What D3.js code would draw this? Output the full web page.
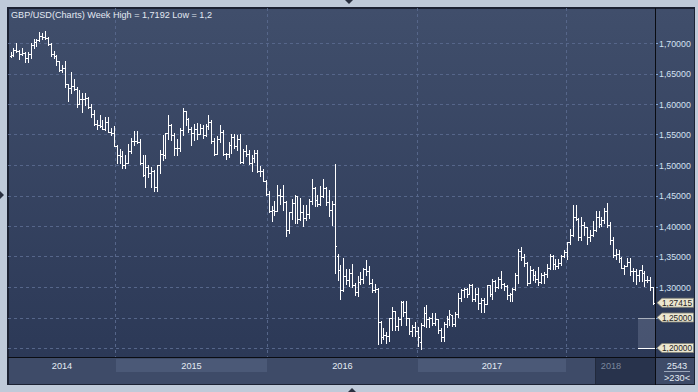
<!DOCTYPE html>
<html>
<head>
<meta charset="utf-8">
<script src="https://cdn.jsdelivr.net/npm/d3@7"></script>
<style>
html, body { margin: 0; padding: 0; background: #bfcad9; }
svg { display: block; font-family: "Liberation Sans", Arial, sans-serif; }
</style>
</head>
<body>
<svg width="698" height="392"></svg>
<script>
// weekly GBP/USD bars, week of 21 Apr 2014 .. week of 6 Aug 2018
var opens = [
  1.6790,1.6805,1.6888,1.6865,1.6818,1.6834,1.6753,1.6822,1.6975,1.7013,1.7041,1.7112,1.7105,1.7080,1.6983,1.6825,1.6794,1.6697,1.6562,1.6590,1.6321,1.6266,1.6296,1.6247,1.6005,1.6088,1.6088,1.6091,1.5950,1.5843,1.5678,1.5650,1.5636,1.5593,1.5711,1.5547,1.5531,
  1.5318,1.5158,1.5155,1.5004,1.5034,1.5235,1.5395,1.5389,1.5378,1.5037,1.4838,1.4965,1.4875,1.4905,1.4634,1.4996,1.5184,1.5158,1.5520,1.5659,1.5492,1.5283,1.5285,1.5570,1.5881,1.5746,1.5595,1.5517,1.5596,1.5508,1.5614,1.5499,1.5641,1.5698,1.5387,1.5175,1.5432,1.5533,1.5188,1.5180,1.5328,1.5467,1.5317,1.5423,1.5044,1.5223,1.5187,1.5038,1.5115,1.5192,1.4897,1.4906,
  1.4738,1.4530,1.4250,1.4265,1.4245,1.4502,1.4498,1.4397,1.3928,1.4230,1.4370,1.4484,1.4120,1.4225,1.4136,1.4200,1.4411,1.4616,1.4430,1.4367,1.4495,1.4628,1.4400,1.4260,1.4365,1.3500,1.3278,1.2950,1.3187,1.3112,1.3230,1.3027,1.2921,1.3075,1.3128,1.3300,1.3261,1.3058,1.2958,1.2973,1.2430,1.2180,1.2220,1.2190,1.2485,1.2600,1.2354,1.2472,1.2756,1.2597,1.2489,1.2271,
  1.2340,1.2280,1.2100,1.2373,1.2575,1.2478,1.2486,1.2412,1.2477,1.2297,1.2180,1.2397,1.2478,1.2540,1.2395,1.2558,1.2822,1.2950,1.2968,1.2878,1.3035,1.2798,1.2885,1.2745,1.2784,1.2720,1.3028,1.2886,1.3095,1.2996,1.3138,1.3043,1.3011,1.2876,1.2880,1.2962,1.3200,1.3592,1.3490,1.3398,1.3066,1.3286,1.3200,1.3138,1.3079,1.3190,1.3212,1.3312,1.3502,1.3375,1.3337,1.3386,
  1.3509,1.3566,1.3733,1.3856,1.4155,1.4119,1.3823,1.4020,1.3990,1.3812,1.3857,1.3927,1.4143,1.4025,1.4095,1.4240,1.4016,1.3770,1.3523,1.3539,1.3476,1.3306,1.3345,1.3410,1.3270,1.3266,1.3193,1.3285,1.3235,1.3117,1.3109,1.2995
];
var highs = [
  1.6851,1.6922,1.6996,1.6885,1.6925,1.6847,1.6849,1.6992,1.7063,1.7064,1.7180,1.7166,1.7192,1.7093,1.6998,1.6864,1.6803,1.6702,1.6644,1.6701,1.6327,1.6525,1.6412,1.6285,1.6227,1.6184,1.6183,1.6116,1.6002,1.5906,1.5738,1.5826,1.5734,1.5788,1.5785,1.5607,1.5635,
  1.5328,1.5269,1.5237,1.5167,1.5351,1.5435,1.5553,1.5551,1.5422,1.5167,1.5166,1.4992,1.4965,1.4911,1.5003,1.5243,1.5498,1.5523,1.5815,1.5664,1.5525,1.5425,1.5600,1.5930,1.5888,1.5773,1.5615,1.5675,1.5690,1.5675,1.5648,1.5678,1.5819,1.5738,1.5440,1.5473,1.5659,1.5575,1.5199,1.5385,1.5509,1.5509,1.5484,1.5507,1.5262,1.5336,1.5240,1.5160,1.5242,1.5241,1.4990,1.4930,
  1.4753,1.4567,1.4331,1.4412,1.4669,1.4608,1.4669,1.4410,1.4234,1.4437,1.4514,1.4500,1.4459,1.4346,1.4344,1.4445,1.4770,1.4634,1.4508,1.4661,1.4769,1.4632,1.4589,1.4404,1.5018,1.3536,1.3353,1.3480,1.3292,1.3297,1.3372,1.3060,1.3186,1.3244,1.3308,1.3445,1.3340,1.3132,1.3055,1.2990,1.2440,1.2335,1.2265,1.2500,1.2674,1.2610,1.2512,1.2776,1.2775,1.2771,1.2495,1.2370,
  1.2432,1.2347,1.2417,1.2674,1.2705,1.2510,1.2581,1.2570,1.2478,1.2331,1.2432,1.2521,1.2615,1.2540,1.2583,1.2905,1.2966,1.2990,1.2990,1.3048,1.3045,1.2978,1.2980,1.2814,1.2815,1.3029,1.3030,1.3126,1.3113,1.3166,1.3268,1.3065,1.3031,1.2907,1.2979,1.3222,1.3616,1.3658,1.3540,1.3413,1.3338,1.3290,1.3257,1.3321,1.3223,1.3252,1.3370,1.3549,1.3530,1.3466,1.3453,1.3530,
  1.3613,1.3743,1.3943,1.4346,1.4345,1.4137,1.4145,1.4070,1.3990,1.3934,1.4089,1.4245,1.4245,1.4150,1.4300,1.4377,1.4060,1.3820,1.3625,1.3610,1.3490,1.3367,1.3471,1.3472,1.3314,1.3296,1.3285,1.3362,1.3259,1.3184,1.3171,1.3005
];
var lows = [
  1.6765,1.6787,1.6851,1.6733,1.6802,1.6693,1.6695,1.6760,1.6925,1.6955,1.7032,1.7059,1.7062,1.6960,1.6788,1.6760,1.6634,1.6548,1.6523,1.6284,1.6052,1.6183,1.6225,1.5951,1.6004,1.5875,1.5984,1.5930,1.5789,1.5654,1.5590,1.5620,1.5588,1.5580,1.5539,1.5485,1.5315,
  1.5035,1.5035,1.4952,1.4951,1.5034,1.5190,1.5332,1.5364,1.5017,1.4820,1.4636,1.4806,1.4632,1.4568,1.4566,1.4873,1.5090,1.5107,1.5421,1.5410,1.5170,1.5169,1.5236,1.5486,1.5655,1.5537,1.5330,1.5417,1.5423,1.5507,1.5443,1.5479,1.5590,1.5356,1.5163,1.5174,1.5383,1.5158,1.5106,1.5139,1.5192,1.5271,1.5242,1.5026,1.5027,1.5153,1.5016,1.4895,1.5052,1.4878,1.4823,1.4734,
  1.4513,1.4235,1.4080,1.4182,1.4240,1.4353,1.4259,1.3836,1.3879,1.4114,1.4055,1.4054,1.4095,1.4006,1.4092,1.4125,1.4363,1.4333,1.4331,1.4340,1.4480,1.4350,1.4163,1.4013,1.3229,1.3122,1.2798,1.2938,1.3055,1.3012,1.3004,1.2865,1.2852,1.3054,1.3068,1.3189,1.3052,1.2915,1.2917,1.2058,1.2085,1.2148,1.2082,1.2112,1.2300,1.2301,1.2301,1.2384,1.2523,1.2371,1.2226,1.2199,
  1.2196,1.2036,1.1987,1.2367,1.2346,1.2346,1.2383,1.2384,1.2251,1.2109,1.2112,1.2342,1.2380,1.2365,1.2365,1.2515,1.2773,1.2841,1.2843,1.2878,1.2773,1.2774,1.2634,1.2589,1.2589,1.2719,1.2847,1.2811,1.2932,1.2991,1.2990,1.2955,1.2808,1.2774,1.2773,1.2947,1.3070,1.3443,1.3337,1.3027,1.3061,1.3121,1.3083,1.3036,1.3061,1.3061,1.3171,1.3303,1.3300,1.3290,1.3305,1.3364,
  1.3486,1.3457,1.3700,1.3844,1.4103,1.3765,1.3765,1.3855,1.3712,1.3752,1.3842,1.3925,1.3986,1.3996,1.4050,1.3985,1.3711,1.3491,1.3458,1.3410,1.3304,1.3205,1.3340,1.3204,1.3102,1.3049,1.3102,1.3103,1.3010,1.3077,1.2957,1.2716
];
var closes = [
  1.6805,1.6888,1.6865,1.6818,1.6834,1.6753,1.6822,1.6975,1.7013,1.7041,1.7112,1.7105,1.7080,1.6983,1.6825,1.6794,1.6697,1.6562,1.6590,1.6321,1.6266,1.6296,1.6247,1.6005,1.6088,1.6088,1.6091,1.5950,1.5843,1.5678,1.5650,1.5636,1.5593,1.5711,1.5547,1.5531,1.5318,
  1.5158,1.5155,1.5004,1.5034,1.5235,1.5395,1.5389,1.5378,1.5037,1.4838,1.4965,1.4875,1.4905,1.4634,1.4996,1.5184,1.5158,1.5520,1.5659,1.5492,1.5283,1.5285,1.5570,1.5881,1.5746,1.5595,1.5517,1.5596,1.5508,1.5614,1.5499,1.5641,1.5698,1.5387,1.5175,1.5432,1.5533,1.5188,1.5180,1.5328,1.5467,1.5317,1.5423,1.5044,1.5223,1.5187,1.5038,1.5115,1.5192,1.4897,1.4906,1.4738,
  1.4530,1.4250,1.4265,1.4245,1.4502,1.4498,1.4397,1.3928,1.4230,1.4370,1.4484,1.4120,1.4225,1.4136,1.4200,1.4411,1.4616,1.4430,1.4367,1.4495,1.4628,1.4400,1.4260,1.4365,1.3680,1.3278,1.2950,1.3187,1.3112,1.3230,1.3027,1.2921,1.3075,1.3128,1.3300,1.3261,1.3058,1.2958,1.2973,1.2430,1.2180,1.2220,1.2190,1.2485,1.2600,1.2354,1.2472,1.2756,1.2597,1.2489,1.2271,1.2340,
  1.2280,1.2180,1.2373,1.2575,1.2478,1.2486,1.2412,1.2477,1.2297,1.2180,1.2397,1.2478,1.2551,1.2395,1.2558,1.2822,1.2950,1.2968,1.2878,1.3035,1.2798,1.2885,1.2745,1.2784,1.2720,1.3028,1.2886,1.3095,1.2996,1.3138,1.3043,1.3011,1.2876,1.2880,1.2962,1.3200,1.3592,1.3490,1.3398,1.3066,1.3286,1.3200,1.3138,1.3079,1.3190,1.3212,1.3312,1.3502,1.3375,1.3337,1.3386,1.3509,
  1.3566,1.3733,1.3856,1.4155,1.4119,1.3823,1.4020,1.3990,1.3812,1.3857,1.3927,1.4143,1.4025,1.4095,1.4240,1.4016,1.3770,1.3523,1.3539,1.3476,1.3306,1.3345,1.3410,1.3270,1.3266,1.3193,1.3285,1.3235,1.3117,1.3109,1.2993,1.27415
];

var years = ["2014", "2015", "2016", "2017", "2018"];
var yearStart = [0, 36.4, 89.4, 141.7, 193.6];   // bar index where each year begins
var priceTicks = [1.20, 1.25, 1.30, 1.35, 1.40, 1.45, 1.50, 1.55, 1.60, 1.65, 1.70];
var lastPrice = 1.27415;
var lineLevels = [1.25, 1.20];
var titleText = "GBP/USD(Charts) Week High = 1,7192 Low = 1,2";
var cornerTop = "2543", cornerBottom = ">230<";

var svg = d3.select("svg");
var plotL = 8, plotR = 655, plotT = 8, plotB = 357, panelR = 694, stripB = 384;

var x = d3.scaleLinear().domain([0, closes.length - 1]).range([10.6, 653]);
var y = d3.scaleLinear().domain([1.20, 1.70]).range([348, 43]);
var fmt = function(v) { return d3.format(".5f")(v).replace(".", ","); };

var defs = svg.append("defs");
var grad = defs.append("linearGradient").attr("id", "bg")
    .attr("x1", 0).attr("y1", 0).attr("x2", 0).attr("y2", 1);
grad.append("stop").attr("offset", "0%").attr("stop-color", "#404e6b");
grad.append("stop").attr("offset", "100%").attr("stop-color", "#2c3957");
defs.append("clipPath").attr("id", "plotclip").append("rect")
    .attr("x", plotL).attr("y", plotT).attr("width", plotR - plotL).attr("height", plotB - plotT);

// outer frame
svg.append("rect").attr("width", 698).attr("height", 392).attr("fill", "#bfcad9");
svg.append("rect").attr("x", 7).attr("y", 7).attr("width", panelR - 7 + 1).attr("height", stripB - 7 + 1)
    .attr("fill", "#1c2233");

// little frame arrows
svg.append("path").attr("d", "M345,0 L353,0 L349,4 Z").attr("fill", "#2a3040");
svg.append("path").attr("d", "M0,191 L0,199 L4,195 Z").attr("fill", "#2a3040");
svg.append("path").attr("d", "M348,392 L356,392 L352,388 Z").attr("fill", "#2a3040");

// backgrounds
svg.append("rect").attr("x", plotL + 1).attr("y", plotT + 1).attr("width", plotR - plotL - 1).attr("height", plotB - plotT - 1)
    .attr("fill", "url(#bg)");
svg.append("rect").attr("x", plotR + 1).attr("y", plotT + 1).attr("width", panelR - plotR - 1).attr("height", plotB - plotT - 1)
    .attr("fill", "url(#bg)");
svg.append("rect").attr("x", plotL + 1).attr("y", plotB + 1).attr("width", panelR - plotL - 1).attr("height", stripB - plotB - 1)
    .attr("fill", "#3e4b68");

// grid
var grid = svg.append("g").attr("clip-path", "url(#plotclip)").attr("shape-rendering", "crispEdges");
grid.selectAll("line.h").data(priceTicks).join("line").attr("class", "h")
    .attr("x1", plotL).attr("x2", plotR)
    .attr("y1", function(d) { return Math.round(y(d)) + 0.5; })
    .attr("y2", function(d) { return Math.round(y(d)) + 0.5; })
    .attr("stroke", "#56668a").attr("stroke-dasharray", "3,3");
grid.selectAll("line.v").data(yearStart.slice(1)).join("line").attr("class", "v")
    .attr("x1", function(d) { return Math.round(x(d)) + 0.5; })
    .attr("x2", function(d) { return Math.round(x(d)) + 0.5; })
    .attr("y1", plotT).attr("y2", plotB)
    .attr("stroke", "#56668a").attr("stroke-dasharray", "3,3");

// level box at the right end
var boxX = 638;
svg.append("rect").attr("x", boxX).attr("y", Math.round(y(lineLevels[0])))
    .attr("width", plotR - boxX).attr("height", Math.round(y(lineLevels[1])) - Math.round(y(lineLevels[0])))
    .attr("fill", "#6a7590").attr("fill-opacity", 0.45);
svg.append("line").attr("x1", boxX).attr("x2", plotR)
    .attr("y1", Math.round(y(lineLevels[0])) + 0.5).attr("y2", Math.round(y(lineLevels[0])) + 0.5)
    .attr("stroke", "#a9b0bd").attr("shape-rendering", "crispEdges");
svg.append("line").attr("x1", boxX).attr("x2", plotR)
    .attr("y1", Math.round(y(lineLevels[1])) + 0.5).attr("y2", Math.round(y(lineLevels[1])) + 0.5)
    .attr("stroke", "#ffffff").attr("shape-rendering", "crispEdges");

// OHLC bars
var idx = d3.range(closes.length);
var bars = svg.append("g").attr("clip-path", "url(#plotclip)").attr("shape-rendering", "crispEdges").attr("fill", "#ffffff");
bars.selectAll("rect.hl").data(idx).join("rect").attr("class", "hl")
    .attr("x", function(i) { return Math.round(x(i)); })
    .attr("y", function(i) { return Math.round(y(highs[i])); })
    .attr("width", 1)
    .attr("height", function(i) { return Math.max(1, Math.round(y(lows[i])) - Math.round(y(highs[i])) + 1); });
bars.selectAll("rect.o").data(idx).join("rect").attr("class", "o")
    .attr("x", function(i) { return Math.round(x(i)) - 1; })
    .attr("y", function(i) { return Math.round(y(opens[i])); })
    .attr("width", 1).attr("height", 1);
bars.selectAll("rect.c").data(idx).join("rect").attr("class", "c")
    .attr("x", function(i) { return Math.round(x(i)) + 1; })
    .attr("y", function(i) { return Math.round(y(closes[i])); })
    .attr("width", 1).attr("height", 1);

// separators
svg.append("line").attr("x1", plotL).attr("x2", panelR + 1).attr("y1", plotB + 0.5).attr("y2", plotB + 0.5)
    .attr("stroke", "#0a0c12").attr("shape-rendering", "crispEdges");
svg.append("line").attr("x1", plotR + 0.5).attr("x2", plotR + 0.5).attr("y1", plotT).attr("y2", stripB + 1)
    .attr("stroke", "#0a0c12").attr("shape-rendering", "crispEdges");

// right price axis
var axisG = svg.append("g");
var shown = priceTicks.filter(function(d) { return lineLevels.indexOf(d) < 0; });
axisG.selectAll("line").data(priceTicks).join("line")
    .attr("x1", plotR + 1).attr("x2", plotR + 3)
    .attr("y1", function(d) { return Math.round(y(d)) + 0.5; })
    .attr("y2", function(d) { return Math.round(y(d)) + 0.5; })
    .attr("stroke", "#7fa4d6").attr("shape-rendering", "crispEdges");
axisG.selectAll("text").data(shown).join("text")
    .attr("x", 659).attr("y", function(d) { return y(d) + 3.5; })
    .attr("font-size", 8.8).attr("fill", "#d3e1f2")
    .text(fmt);

// price tags
var tags = [lastPrice].concat(lineLevels);
var tagG = svg.append("g").selectAll("g").data(tags).join("g")
    .attr("transform", function(d) { return "translate(0," + y(d) + ")"; });
tagG.append("path").attr("d", "M657,0 L662,-4.5 L693.5,-4.5 L693.5,4.5 L662,4.5 Z")
    .attr("fill", "#ece7d0").attr("stroke", "#85857a").attr("stroke-width", 0.8);
tagG.append("text").attr("x", 662).attr("y", 3.2)
    .attr("font-size", 8.3).attr("fill", "#1e1e1e").text(fmt);

// year strip
var yearEnds = yearStart.slice(1).map(function(d) { return x(d); }).concat([plotR]);
var yearX0 = [plotL + 1].concat(yearStart.slice(1).map(function(d) { return Math.round(x(d)) + 1; }));
var stripG = svg.append("g");
stripG.selectAll("rect.band").data(years).join("rect").attr("class", "band")
    .filter(function(d, i) { return i % 2 === 1; })
    .attr("x", function(d) { return yearX0[years.indexOf(d)]; })
    .attr("y", 359)
    .attr("width", function(d) { var i = years.indexOf(d); return Math.round(yearEnds[i]) - yearX0[i]; })
    .attr("height", 13)
    .attr("fill", "#4b5977");
stripG.append("rect").attr("x", 595).attr("y", plotB + 1).attr("width", plotR - 595).attr("height", stripB - plotB - 1)
    .attr("fill", "#28334c");
stripG.append("line").attr("x1", 595.5).attr("x2", 595.5).attr("y1", plotB + 1).attr("y2", stripB)
    .attr("stroke", "#222a3c").attr("shape-rendering", "crispEdges");
stripG.selectAll("text").data(years).join("text")
    .attr("x", function(d, i) { return (yearX0[i] + yearEnds[i]) / 2; })
    .attr("y", 368.5)
    .attr("text-anchor", "middle").attr("font-size", 9.2)
    .attr("fill", function(d, i) { return i === years.length - 1 ? "#7b879e" : "#e4ebf4"; })
    .text(function(d) { return d; });

// corner cell
svg.append("text").attr("x", 677).attr("y", 368.5).attr("text-anchor", "middle")
    .attr("font-size", 9.2).attr("fill", "#e4ebf4").text(cornerTop);
svg.append("line").attr("x1", 664).attr("x2", 690).attr("y1", 371.5).attr("y2", 371.5)
    .attr("stroke", "#9aa6ba").attr("shape-rendering", "crispEdges");
svg.append("text").attr("x", 677).attr("y", 381).attr("text-anchor", "middle")
    .attr("font-size", 9.2).attr("fill", "#e4ebf4").text(cornerBottom);

// title
svg.append("text").attr("x", 11).attr("y", 18.3)
    .attr("font-size", 9.1).attr("fill", "#e3e9f2").text(titleText);
</script>
</body>
</html>
